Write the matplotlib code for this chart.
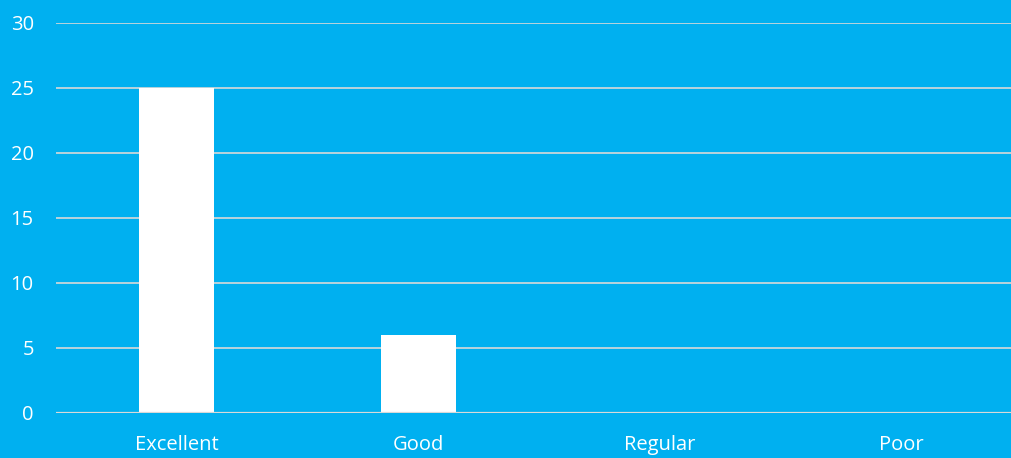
import matplotlib
matplotlib.use("Agg")
import matplotlib.pyplot as plt

categories = ["Excellent", "Good", "Regular", "Poor"]
values = [25, 6, 0, 0]
yticks = [0, 5, 10, 15, 20, 25, 30]

BG = "#00B0F0"
GRID = "#D9D9D9"

plt.rcParams['font.family'] = ['Open Sans', 'DejaVu Sans']

fig = plt.figure(figsize=(10.12, 4.58), dpi=100)
fig.patch.set_facecolor(BG)
ax = fig.add_axes([56/1012, 1-413/458, 966/1012, (413-22.5)/458])
ax.set_facecolor(BG)

x = list(range(len(categories)))
ax.bar(x, values, width=0.31, color="white", zorder=3)

ax.set_xlim(-0.5, len(categories)-0.5)
ax.set_ylim(0, 30)
ax.set_yticks(yticks)
ax.set_xticks(x)
ax.set_xticklabels(categories)
ax.yaxis.grid(True, color=GRID, linewidth=1.2, zorder=1)
ax.set_axisbelow(True)
for s in ax.spines.values():
    s.set_visible(False)
ax.axhline(0, color=GRID, linewidth=1.6, zorder=4)
ax.tick_params(axis='both', length=0, colors="white", labelsize=14.5)
ax.tick_params(axis='y', pad=16)
ax.tick_params(axis='x', pad=16)

fig.savefig("out.png", dpi=100, facecolor=BG)
